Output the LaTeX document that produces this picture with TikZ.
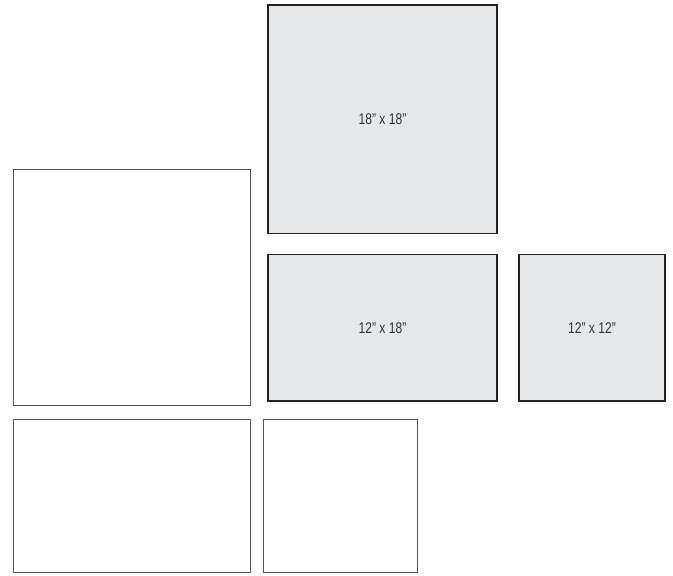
\documentclass[tikz,border=0pt]{standalone}
\usepackage{fontspec}
\setmainfont{Liberation Sans}[FakeStretch=0.78]
\definecolor{boxgray}{HTML}{E6E7E8}
\definecolor{darkline}{HTML}{231F20}
\definecolor{thinline}{HTML}{555555}
\definecolor{txt}{HTML}{333333}
\tikzset{
  graybox/.style={draw=darkline, line width=1.6pt, fill=boxgray},
  whitebox/.style={draw=thinline, line width=1pt, fill=white},
  lbl/.style={text=txt, font=\fontsize{15.5}{18}\selectfont}
}
\begin{document}
\begin{tikzpicture}[x=1pt,y=-1pt]
\useasboundingbox (0,0) rectangle (673,576);
\fill[white] (0,0) rectangle (673,576);
% gray boxes
\draw[graybox] (268,5) rectangle (497,233.5);
\node[lbl] (a) at (382.5,119) {18” x 18”};
\draw[graybox] (268,254.5) rectangle (497,401);
\node[lbl] (b) at (382.5,328) {12” x 18”};
\draw[graybox] (519,254.5) rectangle (665,401);
\node[lbl] (c) at (592,328) {12” x 12”};
% white boxes
\draw[whitebox] (13,169.5) rectangle (250,405);
\draw[whitebox] (13,419) rectangle (250,572);
\draw[whitebox] (263.5,419) rectangle (417,572);
\end{tikzpicture}
\end{document}
